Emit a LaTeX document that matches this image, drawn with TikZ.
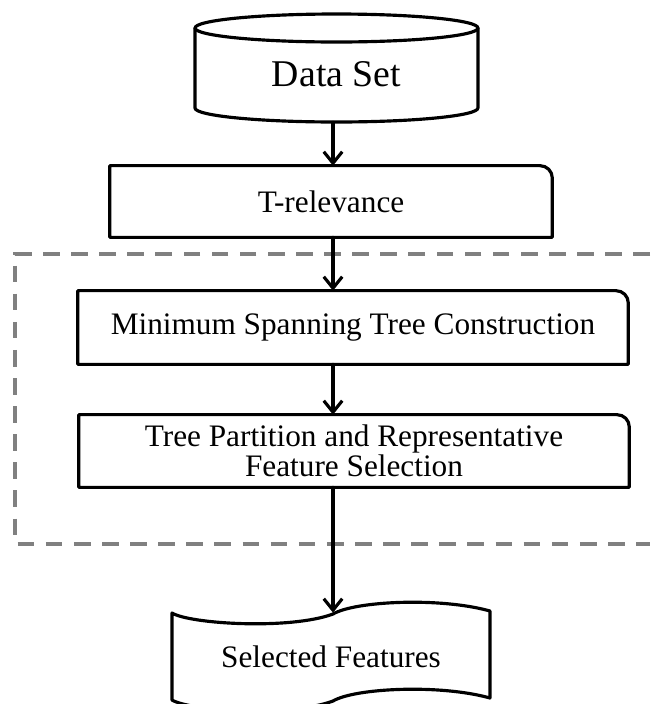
\documentclass[tikz,border=0pt]{standalone}
\usepackage{fontspec}
\setmainfont{Liberation Serif}
\usetikzlibrary{arrows.meta}

\begin{document}
\begin{tikzpicture}[x=0.02cm,y=-0.02cm,line cap=round]
% Styles
\tikzstyle{box text}=[inner sep=0pt,align=center,font=\fontsize{17.8}{15.5}\selectfont]
\tikzstyle{box line}=[line width=1.8pt,line join=round]
\tikzstyle{flow}=[line width=1.8pt,-{Straight Barb[length=6.5pt,width=10.5pt]}]
\tikzstyle{frame}=[gray,dash pattern=on 9.5pt off 6.5pt,line width=1.8pt,line cap=butt]
\useasboundingbox (0,0) rectangle (650,704);
% the dashed frame, open at the right
\draw[frame] (650,254) -- (15,254) -- (15,544) -- (650,544);
% the nodes
\coordinate (spine) at (333,0);
\node[box text,minimum width=5.66cm,minimum height=2.16cm,text height=21pt,text depth=0pt,
  font=\fontsize{21.5}{25}\selectfont] (data) at (336.5,68) {Data Set};
\node[box text,minimum width=8.84cm,minimum height=1.42cm] (trel) at (331,201.5) {T-relevance};
\node[box text,minimum width=11cm,minimum height=1.46cm] (mst) at (353,327.5)
  {Minimum Spanning Tree Construction};
\node[box text,minimum width=11cm,minimum height=1.44cm] (tp) at (354,451)
  {Tree Partition and Representative\\ Feature Selection};
\node[box text,minimum width=6.36cm,minimum height=1.74cm] (sel) at (331,656.5)
  {Selected Features};
% the outlines
\draw[box line] (336.5,28) ellipse[x radius=2.83cm,y radius=0.28cm];
\draw[box line] (195,28) -- (195,108)
  arc[start angle=180,end angle=360,x radius=2.83cm,y radius=0.28cm] -- (478,28);
\foreach \b in {trel,mst,tp}
  \draw[box line] (\b.south west) -- (\b.north west) -- ([xshift=-7pt]\b.north east)
    arc[start angle=90,end angle=0,radius=7pt] -- (\b.south east) -- cycle;
\draw[box line] (172,613) .. controls (190,624) and (290,630) .. (333,614)
  .. controls (355,601) and (440,597) .. (490,611) -- (490,698)
  .. controls (440,684) and (355,688) .. (333,701)
  .. controls (290,717) and (190,711) .. (172,700) -- cycle;
% the arrows
\draw[flow] (data.south -| spine) -- (trel.north -| spine);
\draw[flow] (trel.south -| spine) -- (mst.north -| spine);
\draw[flow] (mst.south -| spine) -- (tp.north -| spine);
\draw[flow] (tp.south -| spine) -- (sel.north -| spine);
\end{tikzpicture}
\end{document}
